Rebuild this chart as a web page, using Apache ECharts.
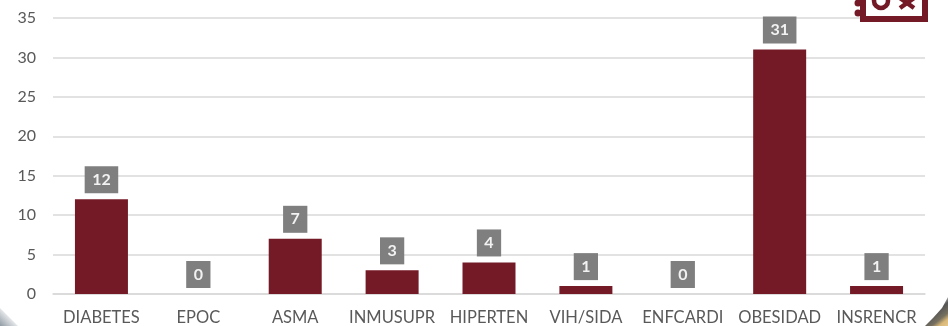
<!DOCTYPE html>
<html><head><meta charset="utf-8">
<style>html,body{margin:0;padding:0;background:#fff}#c{width:948px;height:326px}</style>
<script src="https://cdn.jsdelivr.net/npm/echarts@6/dist/echarts.min.js"></script>
</head><body><div id="c"></div>
<script>
const categories = ['DIABETES','EPOC','ASMA','INMUSUPR','HIPERTEN','VIH/SIDA','ENFCARDI','OBESIDAD','INSRENCR'];
const values = [12,0,7,3,4,1,0,31,1];
const yTicksMax = 35, yTickStep = 5;
const chart = echarts.init(document.getElementById('c'), null, {renderer:'canvas'});
const maroon = '#741926';
chart.setOption({
  animation:false,
  backgroundColor:'#fff',
  grid:{left:53,right:23,top:18,bottom:32,containLabel:false},
  xAxis:{type:'category',data:categories,
    axisLine:{lineStyle:{color:'#d9d9d9',width:1.5}},axisTick:{show:false},
    axisLabel:{color:'#595959',fontFamily:'Lato',fontSize:16.5,margin:15,interval:0}},
  yAxis:{type:'value',min:0,max:yTicksMax,interval:yTickStep,
    axisLine:{show:false},axisTick:{show:false},
    splitLine:{lineStyle:{color:'#d9d9d9',width:1.5}},
    axisLabel:{color:'#595959',fontFamily:'Lato',fontSize:16,margin:17}},
  series:[{type:'bar',data:values,barWidth:53,
    itemStyle:{color:maroon},
    label:{show:true,position:'top',distance:6,color:'#f2f2f2',backgroundColor:'#7f7f7f',
      fontFamily:'Lato',fontWeight:'bold',fontSize:16,padding:[6,7.5,6,7.5],lineHeight:15}}],
  graphic:[
    {type:'rect',z:10,shape:{x:863,y:-10,width:62,height:29},style:{fill:'#fff',stroke:maroon,lineWidth:6}},
    {type:'circle',z:10,shape:{cx:858,cy:3,r:3.5},style:{fill:maroon}},
    {type:'circle',z:10,shape:{cx:858,cy:13,r:3.5},style:{fill:maroon}},
    {type:'circle',z:11,shape:{cx:881,cy:1,r:7},style:{fill:'#fff',stroke:maroon,lineWidth:4.5}},
    {type:'line',z:11,shape:{x1:900,y1:-2,x2:914,y2:8},style:{stroke:maroon,lineWidth:4.5}},
    {type:'line',z:11,shape:{x1:914,y1:-2,x2:900,y2:8},style:{stroke:maroon,lineWidth:4.5}},
    {type:'polygon',z:12,shape:{points:[[0,308],[18,326],[0,326]]},style:{fill:{type:'linear',x:1,y:0,x2:0,y2:1,colorStops:[{offset:0.35,color:'#ffffff'},{offset:1,color:'#8f9aa3'}]}}},
    {type:'polygon',z:12,shape:{points:[[948,297],[942,308],[933,318],[925,326],[948,326]]},style:{fill:{type:'linear',x:0,y:0,x2:1,y2:1,colorStops:[{offset:0.25,color:'#ffffff'},{offset:0.5,color:'#555555'},{offset:0.72,color:'#777060'},{offset:0.85,color:'#d9b878'},{offset:1,color:'#e6c88f'}]}}}
  ]
});
</script></body></html>
